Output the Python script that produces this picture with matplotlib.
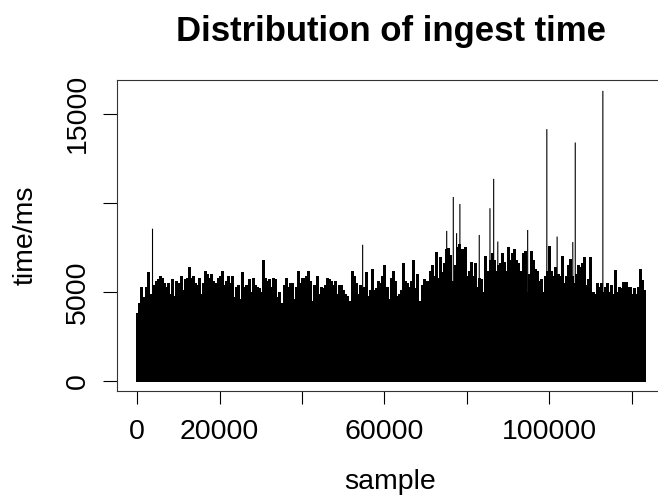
import numpy as np
import matplotlib
matplotlib.use("Agg")
import matplotlib.pyplot as plt

# top of the black area, one reading every 500 samples
step = 500
ingest_ms = [
    3800, 4400, 5300, 4700, 5300, 6100, 4900, 4300, 5400, 5600,
    5700, 5900, 5800, 5500, 5300, 5500, 4900, 5700, 4800, 5600,
    5500, 5900, 5100, 5700, 5800, 6400, 5800, 5900, 5500, 5400,
    5800, 4900, 5500, 6200, 6000, 5800, 6000, 5600, 5500, 5800,
    5900, 6200, 5400, 5600, 5900, 5500, 5900, 4700, 5300, 5400,
    4600, 6100, 5300, 5400, 5700, 5000, 5800, 5400, 5300, 5200,
    5000, 6800, 5800, 5600, 5700, 5300, 5800, 5700, 4700, 5000,
    4400, 5400, 5800, 5300, 5500, 5500, 4600, 5300, 6200, 5500,
    5800, 5800, 5900, 6200, 5600, 4500, 5400, 5900, 4900, 5300,
    5200, 5400, 5800, 5700, 5600, 5400, 5600, 4900, 5400, 5400,
    5100, 4900, 4800, 4500, 6200, 5900, 5500, 4900, 5400, 5200,
    5300, 6100, 4800, 5100, 6300, 5100, 5200, 5600, 5500, 5900,
    6500, 5300, 4600, 5800, 6200, 5600, 4800, 4900, 5100, 6600,
    5600, 5500, 5300, 5600, 6800, 5200, 6000, 4500, 5400, 5700,
    5600, 5600, 6200, 6500, 5900, 7250, 5800, 6950, 6100, 6600,
    7400, 7450, 7100, 5600, 6500, 7500, 7700, 7400, 7400, 7500,
    5900, 6200, 6700, 5900, 6600, 5300, 5800, 5700, 5000, 7000,
    6200, 6800, 7200, 6800, 6200, 6500, 6600, 7200, 6700, 6200,
    7500, 6800, 7200, 7400, 6800, 6600, 6200, 7200, 7300, 5000,
    6000, 7300, 6800, 6300, 6200, 5600, 5700, 5000, 5900, 6200,
    7600, 6200, 5900, 6400, 6000, 5900, 7000, 5500, 5900, 6500,
    6850, 5900, 5500, 6000, 6500, 6400, 6650, 6970, 5400, 5700,
    6970, 5000, 4900, 5500, 5300, 5500, 5000, 5300, 5500, 5000,
    5400, 4900, 6240, 5000, 5300, 5200, 5580, 5580, 5300, 5300,
    4900, 5200, 4900, 5300, 6290, 5660, 5100,
]

# single tall samples
spike_sample = [3700, 54700, 75100, 76700, 77500, 78300, 83000, 85600,
                86500, 87500, 94750, 99400, 101900, 105700, 106300, 113000]
spike_ms = [8550, 7650, 8430, 10330, 8300, 9940, 8200, 9700,
            11350, 7830, 8480, 14140, 8110, 7800, 13390, 16290]

x_ticks = [0, 20000, 40000, 60000, 80000, 100000, 120000]
x_labels = ["0", "20000", "", "60000", "", "100000", ""]
y_ticks = [0, 5000, 10000, 15000]
y_labels = ["0", "5000", "", "15000"]


def main():
    plt.rcParams['font.family'] = ['Liberation Sans', 'DejaVu Sans']

    fig = plt.figure(figsize=(6.58, 4.97), dpi=100)
    ax = fig.add_axes([117 / 658, 106 / 497, 545.6 / 658, 311 / 497])

    sample = np.arange(len(ingest_ms)) * step
    ax.vlines(sample, 0, ingest_ms, colors="black", linewidth=1.9,
              antialiased=False)
    ax.vlines(spike_sample, 0, spike_ms, colors="black", linewidth=0.8,
              snap=False)

    ax.set_xlim(-4920, 127500)
    ax.set_ylim(-560, 16900)

    ax.set_xticks(x_ticks)
    ax.set_xticklabels(x_labels, fontsize=20.5)
    ax.set_yticks(y_ticks)
    ax.set_yticklabels(y_labels, fontsize=20.5, rotation=90, va="center")
    ax.tick_params(axis="x", length=9, width=0.8, pad=11)
    ax.tick_params(axis="y", length=10, width=0.8, pad=9)
    for s in ax.spines.values():
        s.set_linewidth(0.8)
        s.set_color("#333333")

    fig.text(391 / 658, 1 - 31 / 497, "Distribution of ingest time",
             fontsize=25, fontweight="bold", ha="center", va="center")
    fig.text(390 / 658, 1 - 482 / 497, "sample", fontsize=20.5,
             ha="center", va="center")
    fig.text(26 / 658, 1 - 235 / 497, "time/ms", fontsize=20.5,
             rotation=90, ha="center", va="center")

    fig.savefig("out.png", dpi=100)


if __name__ == "__main__":
    main()
